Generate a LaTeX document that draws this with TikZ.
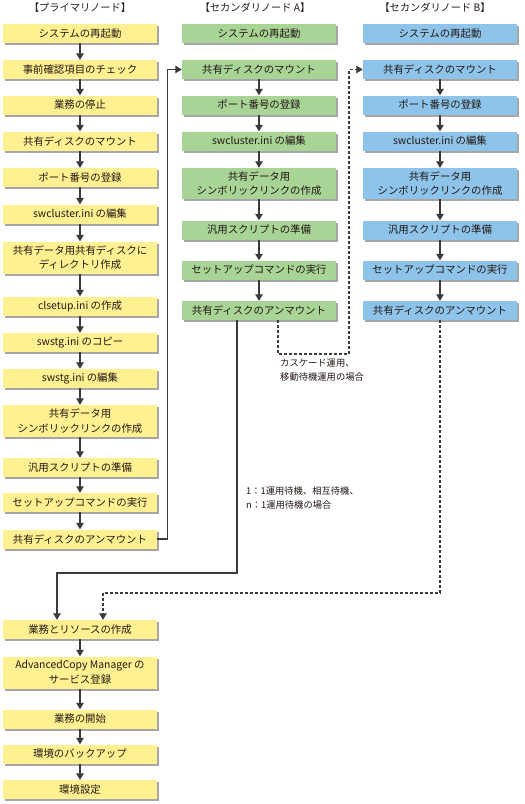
\documentclass[tikz,border=0pt]{standalone}
\usepackage{fontspec}
\setmainfont{Noto Sans CJK JP}
\usetikzlibrary{arrows.meta,shadows}
\definecolor{ylw}{HTML}{FFF191}
\definecolor{grn}{HTML}{A8D496}
\definecolor{blu}{HTML}{8EC4EA}
\definecolor{txt}{HTML}{231815}
\definecolor{ln}{HTML}{3E3A39}
\definecolor{shd}{HTML}{A6A6A6}
\begin{document}
\begin{tikzpicture}[x=1pt,y=-1pt,
  box/.style={minimum width=154pt, minimum height=19pt, inner sep=0pt, align=center,
    font=\fontsize{10.4}{14.5}\selectfont, text=txt,
    drop shadow={shadow xshift=2pt, shadow yshift=-2pt, fill=shd, opacity=1}},
  ybox/.style={box, fill=ylw},
  gbox/.style={box, fill=grn},
  bbox/.style={box, fill=blu},
  two/.style={minimum height=32pt},
  ttl/.style={font=\fontsize{10.2}{12}\selectfont, text=txt, inner sep=0pt},
  lbl/.style={font=\fontsize{9.3}{14}\selectfont, text=txt, inner sep=0pt, align=left, anchor=north west},
  flow/.style={draw=ln, line width=1.25pt, -{Triangle[width=7.5pt,length=6.5pt]}},
  dflow/.style={flow, dash pattern=on 3pt off 2pt},
]
\useasboundingbox (0,0) rectangle (525,804);

% titles
\node[ttl] (t1) at (80,7.5) {【プライマリノード】};
\node[ttl] (t2) at (255,7.5) {【セカンダリノード A】};
\node[ttl] (t3) at (435,7.5) {【セカンダリノード B】};

% primary column
\node[ybox] (Y1) at (80,33.5) {システムの再起動};
\node[ybox] (Y2) at (80,69.5) {事前確認項目のチェック};
\node[ybox] (Y3) at (80,105) {業務の停止};
\node[ybox] (Y4) at (80,141) {共有ディスクのマウント};
\node[ybox] (Y5) at (80,177.5) {ポート番号の登録};
\node[ybox] (Y6) at (80,214) {swcluster.ini の編集};
\node[ybox,two] (Y7) at (80,257.5) {共有データ用共有ディスクに\\ディレクトリ作成};
\node[ybox] (Y8) at (80,306) {clsetup.ini の作成};
\node[ybox] (Y9) at (80,342.5) {swstg.ini のコピー};
\node[ybox] (Y10) at (80,378.5) {swstg.ini の編集};
\node[ybox,two] (Y11) at (80,421) {共有データ用\\シンボリックリンクの作成};
\node[ybox] (Y12) at (80,467.5) {汎用スクリプトの準備};
\node[ybox] (Y13) at (80,502.5) {セットアップコマンドの実行};
\node[ybox] (Y14) at (80,539) {共有ディスクのアンマウント};
\node[ybox] (Y15) at (80,629.5) {業務とリソースの作成};
\node[ybox,two] (Y16) at (80,672.5) {AdvancedCopy Manager の\\サービス登録};
\node[ybox] (Y17) at (80,719) {業務の開始};
\node[ybox] (Y18) at (80,754) {環境のバックアップ};
\node[ybox] (Y19) at (80,789.5) {環境設定};

% secondary A
\node[gbox] (G1) at (259,33.5) {システムの再起動};
\node[gbox] (G2) at (259,69.5) {共有ディスクのマウント};
\node[gbox] (G3) at (259,105) {ポート番号の登録};
\node[gbox] (G4) at (259,141) {swcluster.ini の編集};
\node[gbox,minimum height=31pt] (G5) at (259,183.5) {共有データ用\\シンボリックリンクの作成};
\node[gbox] (G6) at (259,230) {汎用スクリプトの準備};
\node[gbox] (G7) at (259,270) {セットアップコマンドの実行};
\node[gbox] (G8) at (259,310.5) {共有ディスクのアンマウント};

% secondary B
\node[bbox] (B1) at (440,33.5) {システムの再起動};
\node[bbox] (B2) at (440,69.5) {共有ディスクのマウント};
\node[bbox] (B3) at (440,105) {ポート番号の登録};
\node[bbox] (B4) at (440,141) {swcluster.ini の編集};
\node[bbox,minimum height=31pt] (B5) at (440,183.5) {共有データ用\\シンボリックリンクの作成};
\node[bbox] (B6) at (440,230) {汎用スクリプトの準備};
\node[bbox] (B7) at (440,270) {セットアップコマンドの実行};
\node[bbox] (B8) at (440,310.5) {共有ディスクのアンマウント};

% labels
\node[lbl] (L1) at (280,359) {カスケード運用、\\移動待機運用の場合};
\node[lbl] (L2) at (246,486) {1：1運用待機、相互待機、\\n：1運用待機の場合};

% vertical arrows
\foreach \a/\b in {Y1/Y2,Y2/Y3,Y3/Y4,Y4/Y5,Y5/Y6,Y6/Y7,Y7/Y8,Y8/Y9,Y9/Y10,Y10/Y11,Y11/Y12,Y12/Y13,Y13/Y14,
  Y15/Y16,Y16/Y17,Y17/Y18,Y18/Y19,
  G2/G3,G3/G4,G4/G5,G5/G6,G6/G7,G7/G8,
  B2/B3,B3/B4,B4/B5,B5/B6,B6/B7,B7/B8}
  \draw[flow] (\a.south) -- (\b.north);

% cross connectors
\coordinate (c1) at (57,573);
\coordinate (c2) at (349,354);
\coordinate (c3) at (103,593);
\draw[flow] (Y14.east) -- ++(10,0) |- (G2.west);
\draw[flow] ([xshift=-22pt]G8.south) |- (c1) -- (c1 |- Y15.north);
\draw[dflow] ([xshift=19pt]G8.south) |- (c2) |- (B2.west);
\draw[dflow] (B8.south) |- (c3) -- (c3 |- Y15.north);
\end{tikzpicture}
\end{document}
